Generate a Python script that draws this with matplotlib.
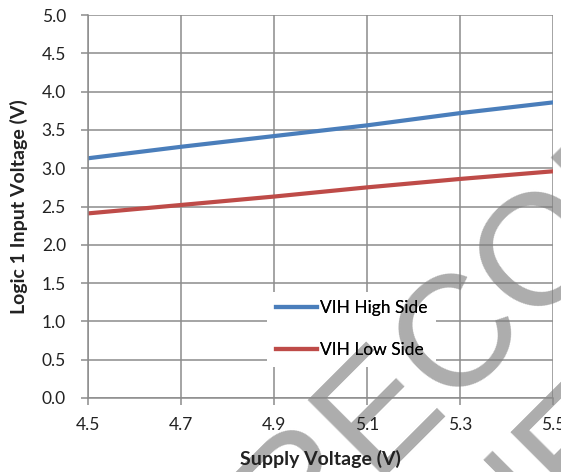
import matplotlib
matplotlib.use("Agg")
import matplotlib.pyplot as plt

# supply voltage (V)
supply_v = [4.5, 4.7, 4.9, 5.1, 5.3, 5.5]
# logic 1 input threshold (V)
vih_high = [3.13, 3.28, 3.42, 3.56, 3.72, 3.86]
vih_low = [2.41, 2.52, 2.63, 2.75, 2.86, 2.96]

x_ticks = [4.5, 4.7, 4.9, 5.1, 5.3, 5.5]
y_ticks = [0.0, 0.5, 1.0, 1.5, 2.0, 2.5, 3.0, 3.5, 4.0, 4.5, 5.0]

plt.rcParams['font.family'] = ['Lato', 'DejaVu Sans']

fig = plt.figure(figsize=(5.61, 4.72), dpi=100)
rect = [0.157, 0.157, 0.829, 0.811]

# back layer: grid + white legend box
ax_bg = fig.add_axes(rect, zorder=0)
# front layer: data, ticks, labels
ax = fig.add_axes(rect, zorder=1)
ax.patch.set_visible(False)

for a in (ax_bg, ax):
    a.set_xlim(4.5, 5.5)
    a.set_ylim(0, 5)
    a.set_xticks(x_ticks)
    a.set_yticks(y_ticks)

ax_bg.grid(True, color="#8c8c8c", lw=1.1)
ax_bg.tick_params(length=0, labelleft=False, labelbottom=False)
for s in ax_bg.spines.values():
    s.set_visible(False)

l1, = ax.plot(supply_v, vih_high, color="#4a7ebb", lw=3.0, label="VIH High Side")
l2, = ax.plot(supply_v, vih_low, color="#be4b48", lw=3.0, label="VIH Low Side")

ax.set_xticklabels(["%.1f" % v for v in x_ticks])
ax.set_yticklabels(["%.1f" % v for v in y_ticks])
for s in ["top", "right"]:
    ax.spines[s].set_visible(False)
for s in ["left", "bottom"]:
    ax.spines[s].set_color("#8c8c8c")
    ax.spines[s].set_linewidth(1.1)
ax.tick_params(colors="#8c8c8c", labelcolor="#222222", labelsize=12.5, length=5, width=1.1)
ax.tick_params(axis="x", pad=9)
ax.tick_params(axis="y", pad=11)

ax.set_xlabel("Supply Voltage (V)", fontsize=14, fontweight="bold", color="#222222", labelpad=12)
ax.set_ylabel("Logic 1 Input Voltage (V)", fontsize=14, fontweight="bold", color="#222222", labelpad=10)

leg_kw = dict(loc="upper left", bbox_to_anchor=(0.366, 0.300), fontsize=12.5,
              handlelength=2.4, handletextpad=0.15, labelspacing=1.48, borderpad=0.5)
leg_bg = ax_bg.legend([l1, l2], [l1.get_label(), l2.get_label()], frameon=True, **leg_kw)
leg_bg.get_frame().set_edgecolor("none")
leg_bg.get_frame().set_facecolor("white")
leg_bg.get_frame().set_alpha(1)
ax.legend(frameon=False, **leg_kw)

# watermark, between the two layers
wm = dict(fontsize=114, rotation=45, rotation_mode="anchor", ha="left", va="baseline",
          color="#808080", alpha=0.65, family="Liberation Sans", zorder=0.5)
fig.text(0.520, -0.181, "RECOMMENDED", **wm)
fig.text(0.411, -0.835, "FOR NEW DESIGNS", **wm)

fig.savefig("out.png", dpi=100)
